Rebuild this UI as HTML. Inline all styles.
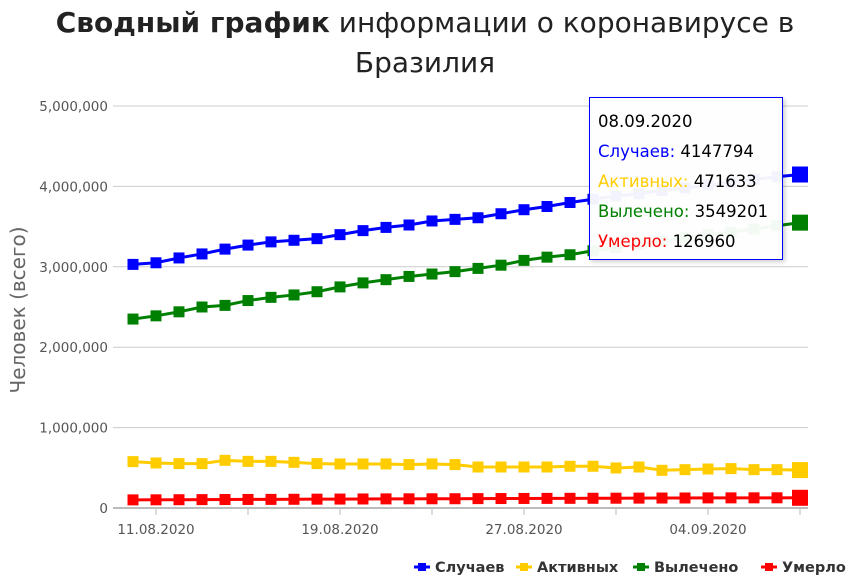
<!DOCTYPE html>
<html><head><meta charset="utf-8"><style>
body{margin:0;background:#fff;font-family:"Liberation Sans","DejaVu Sans",sans-serif}
svg text{font-family:"DejaVu Sans","Liberation Sans",sans-serif}
</style></head><body>
<svg id="c" width="851" height="579" xmlns="http://www.w3.org/2000/svg">
<defs><filter id="sh" x="-10%" y="-10%" width="130%" height="130%"><feDropShadow dx="2" dy="2" stdDeviation="2" flood-opacity="0.2"/></filter></defs>
<text x="425" y="32" text-anchor="middle" font-size="28" fill="#222"><tspan font-weight="bold">Сводный график</tspan> информации о коронавирусе в</text>
<text x="425" y="72" text-anchor="middle" font-size="28" fill="#222">Бразилия</text>
<text transform="translate(25,310) rotate(-90)" text-anchor="middle" font-size="20" fill="#666">Человек (всего)</text>
<g id="grid"></g><g id="series"></g><g id="xaxis"></g><g id="legend"></g>
<g>
<rect x="589.5" y="97.5" width="193" height="162" fill="#fff" fill-opacity="0.95" stroke="#0000ff" filter="url(#sh)"/>
<text x="598" y="127" font-size="16.5" fill="#000">08.09.2020</text>
<text x="598" y="157" font-size="16.5"><tspan fill="#0000ff">Случаев:</tspan><tspan fill="#000"> 4147794</tspan></text>
<text x="598" y="187" font-size="16.5"><tspan fill="#ffcc00">Активных:</tspan><tspan fill="#000"> 471633</tspan></text>
<text x="598" y="217" font-size="16.5"><tspan fill="#008000">Вылечено:</tspan><tspan fill="#000"> 3549201</tspan></text>
<text x="598" y="247" font-size="16.5"><tspan fill="#ff0000">Умерло:</tspan><tspan fill="#000"> 126960</tspan></text>
</g>
</svg>
<script>
const dates=["10.08.2020","11.08.2020","12.08.2020","13.08.2020","14.08.2020","15.08.2020","16.08.2020","17.08.2020","18.08.2020","19.08.2020","20.08.2020","21.08.2020","22.08.2020","23.08.2020","24.08.2020","25.08.2020","26.08.2020","27.08.2020","28.08.2020","29.08.2020","30.08.2020","31.08.2020","01.09.2020","02.09.2020","03.09.2020","04.09.2020","05.09.2020","06.09.2020","07.09.2020","08.09.2020"];
const cases=[3.03,3.05,3.11,3.16,3.22,3.27,3.31,3.33,3.35,3.40,3.45,3.49,3.52,3.57,3.59,3.61,3.66,3.71,3.75,3.80,3.84,3.88,3.91,3.95,3.98,4.02,4.05,4.09,4.12,4.147794];
const active=[0.577,0.56,0.552,0.552,0.593,0.58,0.58,0.568,0.552,0.548,0.548,0.548,0.54,0.548,0.54,0.51,0.51,0.51,0.51,0.519,0.519,0.498,0.51,0.469,0.477,0.485,0.49,0.477,0.477,0.471633];
const recovered=[2.35,2.39,2.44,2.50,2.52,2.58,2.62,2.65,2.69,2.75,2.80,2.84,2.88,2.91,2.94,2.98,3.02,3.08,3.12,3.15,3.20,3.24,3.28,3.32,3.36,3.40,3.43,3.47,3.51,3.549201];
const deaths=[0.101,0.102,0.103,0.1042,0.1055,0.1065,0.1072,0.1085,0.1099,0.1111,0.1123,0.1134,0.1142,0.1147,0.1153,0.1166,0.1177,0.1187,0.1195,0.1203,0.121,0.122,0.123,0.1239,0.1246,0.1255,0.126,0.1265,0.1267,0.12696];
const yTicks=[0,1,2,3,4,5];
const yTickLabels=["0","1,000,000","2,000,000","3,000,000","4,000,000","5,000,000"];
const seriesNames=["Случаев","Активных","Вылечено","Умерло"];
const NS="http://www.w3.org/2000/svg";
const X0=133,X1=800,Y0=508,Y1=106;
const x=i=>X0+(X1-X0)*i/(dates.length-1);
const y=v=>Y0-(Y0-Y1)*v/5;
function mk(t,a,p){const e=document.createElementNS(NS,t);for(const k in a)e.setAttribute(k,a[k]);p.appendChild(e);return e;}
const grid=document.getElementById('grid');
yTicks.forEach((t,i)=>{
 const l=mk('line',{x1:113,x2:808,y1:y(t),y2:y(t),stroke:i==0?'#bbb':'#ccc','stroke-width':i==0?2:1},grid);
 
 
 const tx=mk('text',{x:108,y:y(t)+5,'text-anchor':'end','font-size':13.5,fill:'#555'},grid);
 tx.textContent=yTickLabels[i];
 
 
});
const xa=document.getElementById('xaxis');
dates.forEach((d,i)=>{
 if(i%4==1){
  const tk=mk('line',{x1:x(i),x2:x(i),y1:Y0,y2:Y0+7,stroke:'#bbb'},xa);
  
  
 }
 if(i%8==1){
  const t=mk('text',{x:x(i),y:Y0+26,'text-anchor':'middle','font-size':13.5,fill:'#555'},xa);
  t.textContent=d;
  
  
 }
});
const ser=document.getElementById('series');
const all=[cases,active,recovered,deaths];
const cols=['#0000ff','#ffcc00','#008000','#ff0000'];
const keys=['cases','active','recovered','deaths'];
all.forEach((arr,s)=>{
 const g=mk('g',{},ser);
 
 
 const pl=mk('polyline',{points:arr.map((v,i)=>x(i)+','+y(v)).join(' '),fill:'none',stroke:cols[s],'stroke-width':3},g);
 
 
 arr.forEach((v,i)=>{
  const r=i==arr.length-1?8:5.5;
  const m=mk('rect',{x:x(i)-r,y:y(v)-r,width:2*r,height:2*r,fill:cols[s]},g);
  
  
 });
});
const lg=document.getElementById('legend');
const lx=[414,516,633,761];
seriesNames.forEach((n,i)=>{
 const g=mk('g',{},lg);
 
 
 mk('line',{x1:lx[i],x2:lx[i]+16,y1:567,y2:567,stroke:cols[i],'stroke-width':3},g);
 mk('rect',{x:lx[i]+4,y:563,width:8,height:8,fill:cols[i]},g);
 const t=mk('text',{x:lx[i]+21,y:572,'font-size':14.5,'font-weight':'bold',fill:'#333'},g);
 t.textContent=n;
});
</script>
</body></html>
